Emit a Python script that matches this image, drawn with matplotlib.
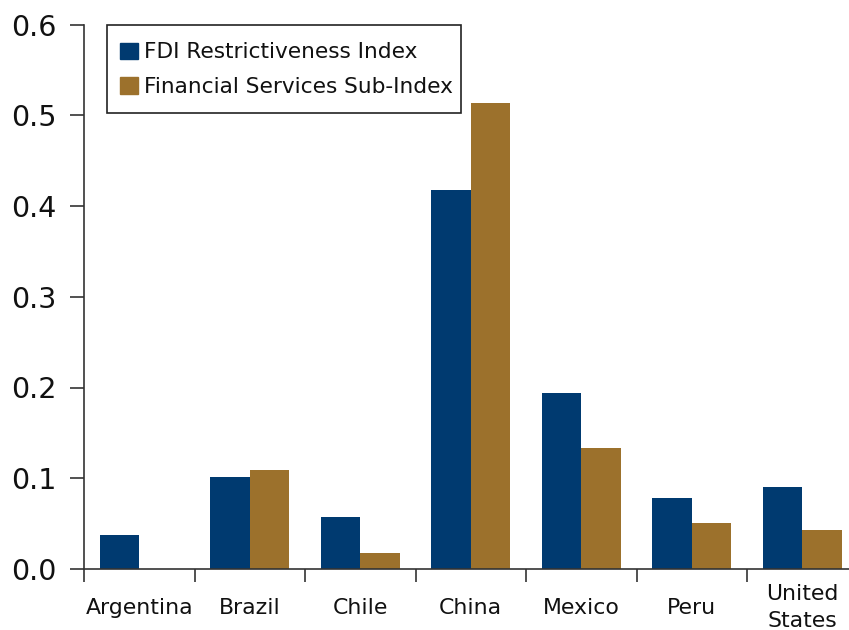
import numpy as np
import matplotlib
matplotlib.use("Agg")
import matplotlib.pyplot as plt
from matplotlib.patches import Patch, Rectangle

# data
countries = ["Argentina", "Brazil", "Chile", "China", "Mexico", "Peru", "United\nStates"]
fdi_index = [0.038, 0.101, 0.057, 0.418, 0.194, 0.078, 0.090]
fin_services = [0.0, 0.109, 0.018, 0.513, 0.133, 0.051, 0.043]
series_names = ["FDI Restrictiveness Index", "Financial Services Sub-Index"]
yticks = [0.0, 0.1, 0.2, 0.3, 0.4, 0.5, 0.6]

blue = "#003A70"
gold = "#9C712C"

plt.rcParams["font.family"] = ["DejaVu Sans"]

W, H = 849, 630
fig = plt.figure(figsize=(W / 100, H / 100), dpi=100)
# axes runs past the right edge of the picture, like the reference crop
left, bottom, top = 84, 569, 24.5
cat_px = 110.5
ax = fig.add_axes([left / W, 1 - bottom / H, len(countries) * cat_px / W, (bottom - top) / H])

x = np.arange(len(countries))
bw = 0.357
ax.bar(x - bw / 2, fdi_index, bw, color=blue, label=series_names[0])
ax.bar(x + bw / 2, fin_services, bw, color=gold, label=series_names[1])

ax.set_xlim(-0.5, len(countries) - 0.5)
ax.set_ylim(0, 0.6)
ax.set_yticks(yticks)
ax.set_yticklabels([f"{v:.1f}" for v in yticks], fontsize=20.5, color="#111111")

# boundaries as major ticks, names as minor ticks
ax.set_xticks(np.arange(len(countries) + 1) - 0.5)
ax.set_xticklabels([])
ax.set_xticks(x, minor=True)
ax.set_xticklabels(countries, minor=True, fontsize=15.8, linespacing=1.45, color="#111111")
for lab in ax.get_xticklabels(minor=True):
    lab.set_va("center")
ax.tick_params(axis="x", which="major", direction="out", length=9, width=1.2, color="#333333")
ax.tick_params(axis="x", which="minor", length=0, pad=28)
ax.tick_params(axis="y", direction="out", length=10, width=1.2, color="#333333", pad=10)

for s in ["top", "right"]:
    ax.spines[s].set_visible(False)
ax.spines["left"].set_linewidth(1.2)
ax.spines["bottom"].set_linewidth(1.2)
ax.spines["left"].set_color("#333333")
ax.spines["bottom"].set_color("#333333")

# legend box: reference frame is tighter on the right than on the left
box = Rectangle((107 / W, 1 - 113 / H), (461 - 107) / W, (113 - 25) / H,
                transform=fig.transFigure, fill=False, edgecolor="#222222", linewidth=1.2)
fig.add_artist(box)
handles = [Patch(color=blue), Patch(color=gold)]
leg = ax.legend(handles, series_names, loc="upper left",
                bbox_to_anchor=(120 / W, 1 - 42.5 / H), bbox_transform=fig.transFigure,
                fontsize=15.6, frameon=False, borderaxespad=0, borderpad=0,
                handlelength=0.82, handleheight=0.82, handletextpad=0.3,
                labelspacing=0.66)
for t in leg.get_texts():
    t.set_color("#111111")

fig.savefig("out.png", dpi=100)
